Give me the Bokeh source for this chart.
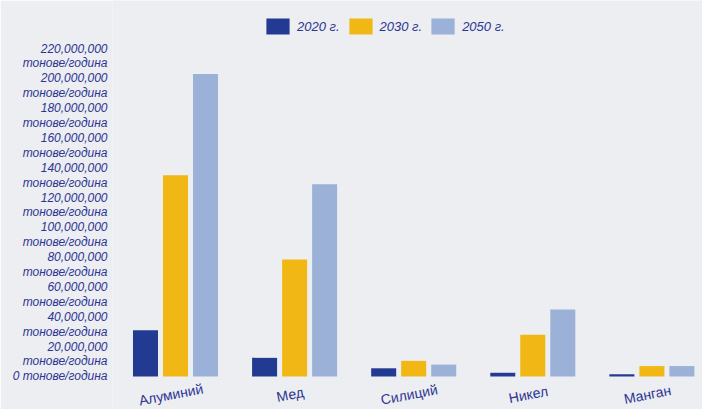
from bokeh.plotting import figure
from bokeh.models import Range1d, FixedTicker, Legend, LegendItem, ColumnDataSource
from bokeh.core.properties import value
from bokeh.transform import dodge
from bokeh.embed import file_html
from bokeh.resources import INLINE

categories = ["Алуминий", "Мед", "Силиций", "Никел", "Манган"]
years = ["2020 г.", "2030 г.", "2050 г."]
v2020 = [31e6, 12.5e6, 5.5e6, 2.5e6, 1.5e6]
v2030 = [135e6, 78.5e6, 10.5e6, 28e6, 7e6]
v2050 = [203e6, 129e6, 8e6, 45e6, 7e6]
y_ticks = list(range(0, 220_000_001, 20_000_000))
unit = "тонове/година"

colors = ["#233a93", "#f1b815", "#9bb1d8"]
text_color = "#2d3593"
bg = "#eceef1"
font = "Liberation Sans"

src = ColumnDataSource(dict(x=list(range(len(categories))), cat=categories,
                            v2020=v2020, v2030=v2030, v2050=v2050))

p = figure(width=702, height=409,
           x_range=Range1d(-0.529, 4.425), y_range=Range1d(-22.15e6, 252.3e6),
           x_axis_location=None,
           output_backend="svg", toolbar_location=None,
           min_border_left=112, min_border_right=0,
           min_border_top=0, min_border_bottom=0,
           background_fill_color=bg, border_fill_color=bg)
p.outline_line_color = None
p.grid.visible = False

renderers = []
for col, off, c in zip(["v2020", "v2030", "v2050"], [-0.252, 0.0, 0.252], colors):
    r = p.vbar(x=dodge("x", off), top=col, bottom=0, width=0.21,
               source=src, fill_color=c, line_color=None)
    renderers.append(r)

# category labels under the groups
p.text(x="x", y=0, text="cat", source=src, angle=0.19,
       x_offset=-4.5, y_offset=18,
       text_align="center", text_baseline="middle",
       text_font=value(font), text_font_size="14px", text_color=text_color)

legend = Legend(items=[LegendItem(label=y, renderers=[r]) for y, r in zip(years, renderers)],
                orientation="horizontal", location=(151, 373))
legend.background_fill_alpha = 0
legend.border_line_color = None
legend.glyph_width = 29
legend.glyph_height = 20
legend.label_standoff = 5
legend.spacing = 6
legend.padding = 2
legend.margin = 0
legend.label_text_font = font
legend.label_text_font_style = "italic"
legend.label_text_font_size = "13px"
legend.label_text_color = text_color
p.add_layout(legend)

# y axis
p.yaxis.ticker = FixedTicker(ticks=y_ticks)
overrides = {}
for t in y_ticks:
    if t == 0:
        overrides[t] = "0 " + unit
    else:
        overrides[t] = "\u00a0\n" + f"{t:,}" + "\n" + unit
p.yaxis.major_label_overrides = overrides
p.yaxis.axis_line_color = None
p.yaxis.major_tick_line_color = None
p.yaxis.minor_tick_line_color = None
p.yaxis.major_tick_out = 0
p.yaxis.major_label_standoff = 5
p.yaxis.major_label_text_font = font
p.yaxis.major_label_text_font_style = "italic"
p.yaxis.major_label_text_font_size = "12px"
p.yaxis.major_label_text_line_height = 1.05
p.yaxis.major_label_text_color = text_color

open("out.html", "w").write(file_html(p, INLINE))
